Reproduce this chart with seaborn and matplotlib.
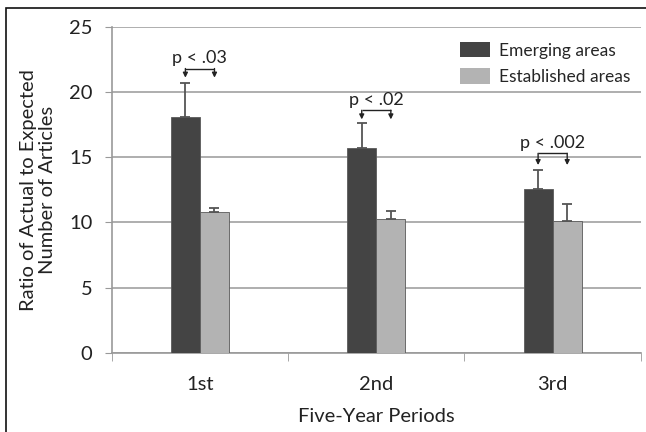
import matplotlib
matplotlib.use("Agg")
import matplotlib.pyplot as plt
import matplotlib.patches as mpatches
import seaborn as sns
import pandas as pd
import numpy as np

periods = ["1st", "2nd", "3rd"]
groups = ["Emerging areas", "Established areas"]
emerging = [18.1, 15.7, 12.6]
established = [10.8, 10.3, 10.1]
emerging_err = [2.6, 1.9, 1.4]
established_err = [0.3, 0.6, 1.3]

p_labels = ["p < .03", "p < .02", "p < .002"]
bracket_y = [21.8, 18.6, 15.3]
arrow_tip = [21.1, 17.9, 14.4]

df = pd.DataFrame({
    "period": periods * 2,
    "group": [groups[0]] * 3 + [groups[1]] * 3,
    "ratio": emerging + established,
})

sns.set_style("white")
plt.rcParams["font.family"] = ["Lato", "DejaVu Sans"]

fig = plt.figure(figsize=(6.46, 4.32), dpi=100)
ax = fig.add_axes([0.173, 0.183, 0.819, 0.755])

colors = ["#444444", "#b3b3b3"]
sns.barplot(data=df, x="period", y="ratio", hue="group", palette=colors,
            width=0.33, errorbar=None, ax=ax, zorder=3,
            edgecolor="#5a5a5a", linewidth=0.6)

# upward-only error bars, positioned from the bars seaborn drew
errs = [emerging_err, established_err]
centers = []
for cont, vals, err in zip(ax.containers, [emerging, established], errs):
    xs = [p.get_x() + p.get_width() / 2 for p in cont.patches]
    centers.append(xs)
    ax.errorbar(xs, vals, yerr=[np.zeros(len(err)), err], fmt="none",
                ecolor="#555555", elinewidth=1.3, capsize=3.5, capthick=1.3,
                zorder=4)

# significance brackets
for i, lab in enumerate(p_labels):
    x1, x2 = centers[0][i], centers[1][i]
    ax.plot([x1, x2], [bracket_y[i], bracket_y[i]], color="#222222", lw=1.0,
            zorder=5, solid_capstyle="butt")
    for xx in (x1, x2):
        ax.annotate("", xy=(xx, arrow_tip[i]), xytext=(xx, bracket_y[i]),
                    arrowprops=dict(arrowstyle="-|>", color="#222222", lw=1.0,
                                    mutation_scale=7, shrinkA=0, shrinkB=0),
                    zorder=5)
    ax.text((x1 + x2) / 2, bracket_y[i] + 0.2, lab, ha="center", va="bottom",
            fontsize=13, color="#222222")

ax.set_ylim(0, 25)
ax.set_xlim(-0.5, 2.5)
ax.set_yticks([0, 5, 10, 15, 20, 25])
ax.yaxis.grid(True, color="#a8a8a8", lw=1.3, zorder=0)
ax.set_axisbelow(True)
for s in ["top", "right"]:
    ax.spines[s].set_visible(False)
for s in ["left", "bottom"]:
    ax.spines[s].set_color("#999999")
    ax.spines[s].set_linewidth(1.2)

ax.set_xticks([0, 1, 2])
ax.tick_params(axis="y", which="both", left=True, length=5, color="#999999",
               labelsize=14.5, labelcolor="#222222", pad=9)
ax.tick_params(axis="x", bottom=False, labelsize=14.5, labelcolor="#222222",
               pad=13)
ax.set_xticks([-0.5, 0.5, 1.5, 2.5], minor=True)
ax.tick_params(axis="x", which="minor", bottom=True, length=6, color="#999999")

ax.set_xlabel("Five-Year Periods", fontsize=14.5, color="#222222", labelpad=11)
ax.set_ylabel("Ratio of Actual to Expected\nNumber of Articles", fontsize=14.5,
              color="#222222", labelpad=9, linespacing=1.15)

leg = ax.legend(loc="upper left", bbox_to_anchor=(0.645, 0.975), frameon=False,
                fontsize=12.5, handlelength=1.75, handleheight=1.0,
                labelspacing=0.55, handletextpad=0.5, borderaxespad=0)
for h in leg.legend_handles:
    h.set_edgecolor("none")

# outer frame of the original figure (left and top edges visible)
fig.patches.append(mpatches.Rectangle((6 / 646, -0.1), 1.2, 1 - 8 / 432 + 0.1,
                                      transform=fig.transFigure, fill=False,
                                      edgecolor="#111111", lw=1.2))

fig.savefig("out.png", dpi=100)
